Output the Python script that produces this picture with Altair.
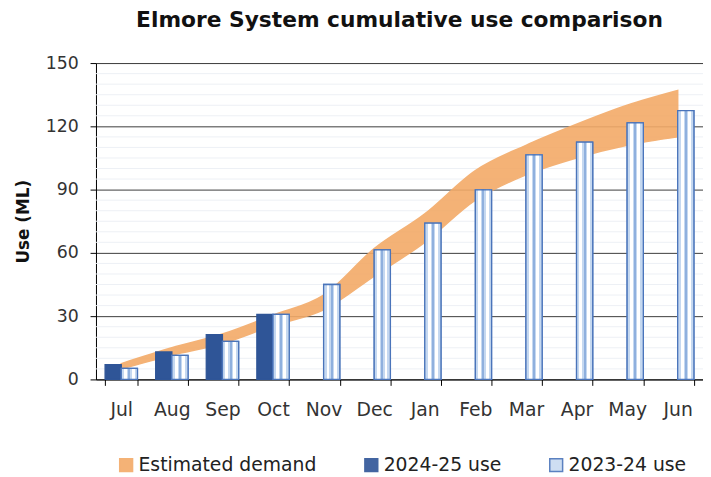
import altair as alt
import pandas as pd

months = ["Jul", "Aug", "Sep", "Oct", "Nov", "Dec", "Jan", "Feb", "Mar", "Apr", "May", "Jun"]
use_2024_25 = [7.0, 13.0, 21.2, 30.8]
use_2023_24 = [5.2, 11.4, 18.0, 30.8, 45.0, 61.4, 74.1, 89.9, 106.5, 112.5, 121.6, 127.4]
demand_low = [5.0, 11.5, 17.0, 25.5, 33.0, 49.0, 65.0, 85.0, 97.0, 105.0, 111.0, 115.0]
demand_high = [7.5, 15.0, 21.5, 30.5, 40.0, 62.0, 78.5, 99.0, 111.0, 121.0, 130.0, 137.0]
series_names = ["Estimated demand", "2024-25 use", "2023-24 use"]
bar_series = ["2024-25 use", "2023-24 use"]
y_ticks = [0, 30, 60, 90, 120, 150]
minor_grid = [5, 10, 15, 20, 25, 35, 40, 45, 50, 55, 65, 70, 75, 80, 85,
              95, 100, 105, 110, 115, 125, 130, 135, 140, 145]

rows = []
for m, v in zip(months, use_2024_25):
    rows.append({"month": m, "series": "2024-25 use", "value": v})
for m, v in zip(months, use_2023_24):
    rows.append({"month": m, "series": "2023-24 use", "value": v})
bars_df = pd.DataFrame(rows)
light_df = bars_df[bars_df["series"] == "2023-24 use"]
band_df = pd.DataFrame({"month": months, "low": demand_low, "high": demand_high,
                        "series": "Estimated demand"})
grid_df = pd.DataFrame({"v": minor_grid})

FONT = "DejaVu Sans"
x_scale = alt.Scale(domain=months, paddingInner=0.36, paddingOuter=0.18)
y_scale = alt.Scale(domain=[0, 150], nice=False)
color_scale = alt.Scale(domain=series_names, range=["#F3AA68", "#2F5597", "#C9DBF1"])
stroke_scale = alt.Scale(domain=series_names, range=["#F3AA68", "#2F5597", "#4A74BA"])
xoff_scale = alt.Scale(domain=bar_series, paddingInner=0, paddingOuter=0)

x_axis = alt.Axis(title=None, tickBand="extent", labelAngle=0, domainColor="black",
                  tickColor="black", tickSize=6, labelFont=FONT, labelFontSize=19,
                  labelColor="#333333", labelPadding=15, grid=False)
y_axis = alt.Axis(title="Use (ML)", values=y_ticks, grid=True, gridColor="#3c3c3c",
                  gridWidth=1, domainColor="black", tickColor="black", tickSize=6,
                  labelFont=FONT, labelFontSize=17.5, labelColor="#333333", labelPadding=12,
                  titleFont=FONT, titleFontSize=17, titleFontWeight="bold",
                  titleColor="#111111", titlePadding=13)

legend = alt.Legend(title=None, orient="none", legendX=21, legendY=397, direction="horizontal",
                    columns=3, symbolType="square", symbolSize=169, symbolStrokeWidth=1.5,
                    labelFont=FONT, labelFontSize=19, labelColor="#222222", labelOffset=3,
                    labelLimit=0, columnPadding=45, padding=0)

X = alt.X("month:N", scale=x_scale, axis=x_axis, sort=months)
Xc = alt.X("month:N", scale=x_scale, axis=x_axis, sort=months, bandPosition=0.5)

minor = alt.Chart(grid_df).mark_rule(color="#EDF0F5", strokeWidth=1).encode(
    y=alt.Y("v:Q", scale=y_scale, axis=y_axis)
)

band = alt.Chart(band_df).mark_area(opacity=0.9, strokeWidth=1.5, interpolate="monotone").encode(
    x=Xc,
    y=alt.Y("low:Q", scale=y_scale, axis=y_axis),
    y2="high:Q",
    color=alt.Color("series:N", scale=color_scale, legend=legend),
    stroke=alt.Stroke("series:N", scale=stroke_scale, legend=legend),
)

bars = alt.Chart(bars_df).mark_bar(strokeWidth=1.3).encode(
    x=X,
    xOffset=alt.XOffset("series:N", scale=xoff_scale, sort=bar_series),
    y=alt.Y("value:Q", scale=y_scale, axis=y_axis),
    color=alt.Color("series:N", scale=color_scale, legend=legend),
    stroke=alt.Stroke("series:N", scale=stroke_scale, legend=legend),
)

LB = "#C5D8F0"
W = "#FFFFFF"
MID = "#8FB0DE"
stops = [
    (0.0, LB), (0.18, LB), (0.18, W), (0.36, W), (0.36, LB), (0.44, LB),
    (0.44, MID), (0.56, MID), (0.56, LB), (0.64, LB), (0.64, W), (0.82, W),
    (0.82, LB), (1.0, LB),
]
stripe = alt.LinearGradient(
    gradient="linear", x1=0, x2=1, y1=0, y2=0,
    stops=[alt.GradientStop(offset=o, color=c) for o, c in stops],
)

stripes = alt.Chart(light_df).mark_bar(fill=stripe, stroke="#4A74BA", strokeWidth=1.3).encode(
    x=X,
    xOffset=alt.XOffset("series:N", scale=xoff_scale, sort=bar_series),
    y=alt.Y("value:Q", scale=y_scale, axis=y_axis),
)

chart = alt.layer(minor, band, bars, stripes).properties(
    width=614,
    height=320,
    title=alt.Title("Elmore System cumulative use comparison", font=FONT, fontSize=22,
                    fontWeight="bold", color="#111111", anchor="middle", offset=22),
    autosize=alt.AutoSizeParams(type="none"),
    padding={"left": 89, "top": 53, "right": 0, "bottom": 96},
).configure_view(stroke=None).configure(background="white")

chart.save("out.html", embed_options={"renderer": "svg", "actions": False})
